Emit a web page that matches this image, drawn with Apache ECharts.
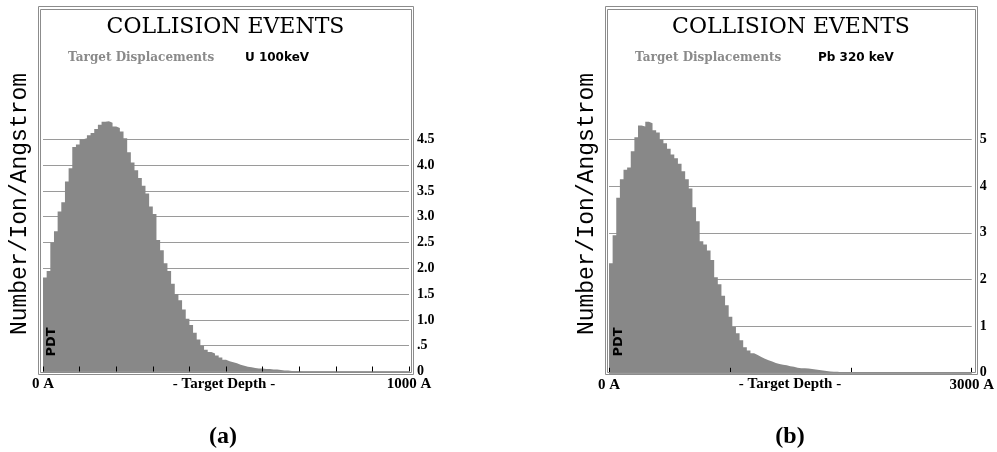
<!DOCTYPE html>
<html>
<head>
<meta charset="utf-8">
<title>Collision Events</title>
<script src="https://cdn.jsdelivr.net/npm/echarts@6.0.0/dist/echarts.min.js"></script>
<style>
  html, body { margin: 0; padding: 0; background: #fff; }
  #chart { width: 997px; height: 452px; }
</style>
</head>
<body>
<div id="chart"></div>
<script>
// (a) U 100keV : target displacements per 10 A depth bin
var binWidthA = 10;
var displA = [
  1.82, 1.95, 2.5, 2.72, 3.1, 3.28, 3.68, 3.94, 4.35, 4.4,
  4.5, 4.52, 4.58, 4.62, 4.7, 4.78, 4.84, 4.85, 4.82, 4.75,
  4.72, 4.65, 4.52, 4.25, 4.05, 3.9, 3.75, 3.6, 3.45, 3.2,
  3.05, 2.55, 2.35, 2.1, 1.95, 1.7, 1.5, 1.38, 1.2, 1.02,
  0.9, 0.75, 0.62, 0.5, 0.42, 0.38, 0.35, 0.31, 0.27, 0.23,
  0.2, 0.18, 0.16, 0.13, 0.11, 0.09, 0.08, 0.07, 0.06, 0.06,
  0.05, 0.05, 0.04, 0.04, 0.03, 0.02, 0.02, 0.01, 0.01, 0.01,
  0
];
var depthMaxA = 1000;
var depthTickA = 100;
var yMaxA = 4.5;
var yStepA = 0.5;

// (b) Pb 320 keV : target displacements per 30 A depth bin
var binWidthB = 30;
var displB = [
  2.35, 2.95, 3.75, 4.15, 4.35, 4.4, 4.75, 5.05, 5.3, 5.28,
  5.38, 5.35, 5.2, 5.15, 5.0, 4.92, 4.8, 4.68, 4.6, 4.48,
  4.32, 4.15, 3.95, 3.55, 3.25, 2.82, 2.75, 2.62, 2.42, 2.05,
  1.9, 1.65, 1.45, 1.2, 0.98, 0.85, 0.7, 0.55, 0.48, 0.42,
  0.38, 0.34, 0.3, 0.27, 0.24, 0.21, 0.19, 0.17, 0.16, 0.14,
  0.13, 0.11, 0.1, 0.1, 0.09, 0.08, 0.07, 0.06, 0.05, 0.04,
  0.03, 0.02, 0.02, 0.01, 0
];
var depthMaxB = 3000;
var depthTickB = 1000;
var yMaxB = 5;
var yStepB = 1;

var titleText = 'COLLISION EVENTS';
var subText = 'Target Displacements';
var ionA = 'U 100keV';
var ionB = 'Pb 320 keV';
var yTitle = 'Number/Ion/Angstrom';
var xTitle = '- Target Depth -';

function stepData(vals, w) {
  var d = vals.map(function (v, i) { return [i * w, v]; });
  d.push([vals.length * w, vals[vals.length - 1]]);
  return d;
}

var serifBold = '"Liberation Serif", "Times New Roman", serif';
var fillGray = '#888888';
var lineGray = '#9a9a9a';

function xAxisFor(idx, max, tick) {
  return {
    type: 'value', gridIndex: idx, min: 0, max: max, interval: tick, z: 5,
    axisLine: { show: false },
    axisTick: { show: true, inside: true, length: 5, lineStyle: { color: '#000', width: 1 } },
    splitLine: { show: false },
    axisLabel: {
      margin: 5, color: '#000', fontFamily: serifBold, fontWeight: 'bold', fontSize: 15,
      formatter: function (v) { return (v === 0 || v === max) ? v + ' A' : ''; }
    }
  };
}

function yAxisFor(idx, max, step, fmt) {
  return {
    type: 'value', gridIndex: idx, position: 'right', min: 0, max: max, interval: step,
    axisLine: { show: false }, axisTick: { show: false },
    splitLine: { show: true, lineStyle: { color: lineGray, width: 1 } },
    axisLabel: {
      margin: 8, color: '#000', fontFamily: serifBold, fontWeight: 'bold', fontSize: 14,
      formatter: fmt
    }
  };
}

function histSeries(idx, vals, w) {
  return {
    type: 'line', xAxisIndex: idx, yAxisIndex: idx, step: 'end', clip: false,
    symbol: 'none', silent: true, animation: false,
    lineStyle: { width: 0, color: fillGray },
    areaStyle: { color: fillGray, opacity: 1 },
    data: stepData(vals, w)
  };
}

function panelGraphics(x0, x1, ion, ionX, plotMid) {
  var cx = (x0 + x1) / 2;
  return [
    { type: 'rect', shape: { x: x0 + 0.5, y: 6.5, width: x1 - x0, height: 368 },
      style: { fill: null, stroke: '#8c8c8c', lineWidth: 1 }, z: 10 },
    { type: 'rect', shape: { x: x0 + 2.5, y: 9.5, width: x1 - x0 - 4, height: 363 },
      style: { fill: null, stroke: '#8c8c8c', lineWidth: 1 }, z: 10 },
    { type: 'text', x: cx, y: 27, z: 10,
      style: { text: titleText, textAlign: 'center', textVerticalAlign: 'middle',
        font: '22px "DejaVu Serif", serif', fill: '#000' } },
    { type: 'text', x: x0 + 30, y: 58, z: 10,
      style: { text: subText, textAlign: 'left', textVerticalAlign: 'middle',
        font: 'bold 12px "DejaVu Serif", serif', fill: '#8a8a8a' } },
    { type: 'text', x: ionX, y: 58, z: 10,
      style: { text: ion, textAlign: 'left', textVerticalAlign: 'middle',
        font: 'bold 12px "DejaVu Sans", sans-serif', fill: '#000' } },
    { type: 'text', x: x0 - 18, y: 204, rotation: Math.PI / 2, z: 10,
      style: { text: yTitle, textAlign: 'center', textVerticalAlign: 'middle',
        font: '23px "Liberation Mono", monospace', fill: '#000' } },
    { type: 'text', x: x0 + 14, y: 342, rotation: Math.PI / 2, z: 10,
      style: { text: 'PDT', textAlign: 'center', textVerticalAlign: 'middle',
        font: 'bold 13px "DejaVu Sans", sans-serif', fill: '#000' } },
    { type: 'text', x: plotMid, y: 384, z: 10,
      style: { text: xTitle, textAlign: 'center', textVerticalAlign: 'middle',
        font: 'bold 15px ' + serifBold, fill: '#000' } }
  ];
}

var chart = echarts.init(document.getElementById('chart'), null, { renderer: 'canvas' });

chart.setOption({
  backgroundColor: '#fff',
  animation: false,
  grid: [
    { left: 43, top: 139.3, width: 366, height: 232.2 },
    { left: 609, top: 139.5, width: 365, height: 233.3 }
  ],
  xAxis: [
    xAxisFor(0, depthMaxA, depthTickA),
    xAxisFor(1, depthMaxB, depthTickB)
  ],
  yAxis: [
    yAxisFor(0, yMaxA, yStepA, function (v) {
      if (v === 0) return '0';
      if (v === 0.5) return '.5';
      return v.toFixed(1);
    }),
    yAxisFor(1, yMaxB, yStepB, function (v) { return String(v); })
  ],
  series: [
    histSeries(0, displA, binWidthA),
    histSeries(1, displB, binWidthB)
  ],
  graphic: panelGraphics(38, 413, ionA, 245, 224)
    .concat(panelGraphics(605, 977, ionB, 818, 790))
    .concat([
      { type: 'text', x: 223, y: 437, z: 10,
        style: { text: '(a)', textAlign: 'center', textVerticalAlign: 'middle',
          font: 'bold 24px "Liberation Serif", serif', fill: '#000' } },
      { type: 'text', x: 790, y: 437, z: 10,
        style: { text: '(b)', textAlign: 'center', textVerticalAlign: 'middle',
          font: 'bold 24px "Liberation Serif", serif', fill: '#000' } }
    ])
});
</script>
</body>
</html>
